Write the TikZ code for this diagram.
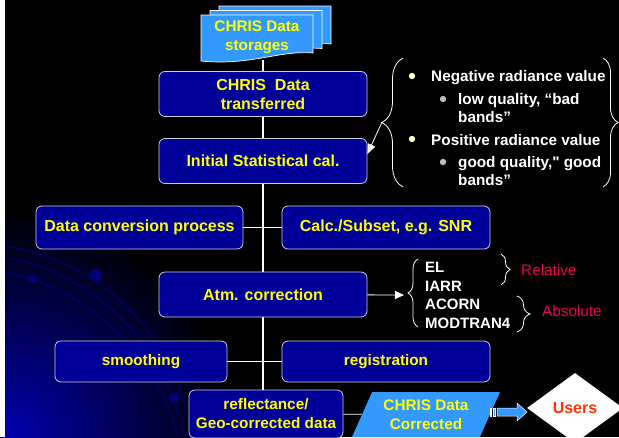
\documentclass[tikz,border=0pt]{standalone}
\usepackage{fontspec}
\setmainfont{Liberation Sans}
\usepackage{tikz}
\usetikzlibrary{shapes,arrows.meta,positioning,calc,decorations.pathreplacing}
\usepackage{xcolor}
\definecolor{boxnavy}{RGB}{0,0,153}
\definecolor{boxedge}{RGB}{205,205,215}
\definecolor{skyblue}{RGB}{51,153,255}
\definecolor{textyellow}{RGB}{255,255,0}
\definecolor{pinkred}{RGB}{235,0,90}
\definecolor{userred}{RGB}{255,51,0}
\definecolor{dotyellow}{RGB}{255,255,204}
\definecolor{dotgray}{RGB}{190,190,190}
\definecolor{arcblue}{RGB}{0,0,125}
\definecolor{bgblue}{RGB}{0,0,175}

\begin{document}
\begin{tikzpicture}[x=1pt,y=-1pt,
    procbox/.style={rectangle,rounded corners=6pt,fill=boxnavy,draw=boxedge,line width=0.8pt,
        text=textyellow,font=\bfseries\fontsize{16}{19}\selectfont,align=center,inner sep=0pt},
    smalltext/.style={font=\bfseries\fontsize{15.3}{19}\selectfont},
    wire/.style={draw=white,line width=1.2pt},
    bultxt/.style={anchor=base west,text=white,inner sep=0pt,font=\bfseries\fontsize{15.3}{18}\selectfont},
    curly/.style={draw=white,line width=0.8pt,decorate,decoration={brace,amplitude=#1}}]

        \useasboundingbox (0,0) rectangle (619,437);
        \clip (0,0) rectangle (619,437);

        % background
        \fill[black] (0,0) rectangle (619,437);
        \shade[inner color=bgblue,outer color=black] (5,437) circle (230);
        \fill[white] (0,0) rectangle (5,437);
        \draw[arcblue,line width=0.9pt] (5,246) .. controls (110,262) and (178,345) .. (192,437);
        \draw[arcblue,line width=0.9pt] (5,257) .. controls (100,275) and (168,350) .. (184,437);
        \draw[arcblue,line width=0.9pt] (5,272) .. controls (90,290) and (158,355) .. (178,437);
        \fill[arcblue] (32,279) circle (4);
        \fill[arcblue] (96,275) circle (6);
        \fill[arcblue] (174,398) circle (5);

        % Data storages
        \foreach \d in {2,1,0}
            \filldraw[fill=skyblue,draw=white,line width=0.7pt,shift={(9*\d,-4.5*\d)}]
                (201,15) -- (313,15) -- (313,53) .. controls (280,50) and (250,66) .. (201,61) -- cycle;
        \node[text=textyellow,font=\bfseries\fontsize{15.3}{19}\selectfont,align=center] (storage) at (257,37) {CHRIS Data\\storages};
        \coordinate (storeout) at (263,60);

        % main column
        \node[procbox,minimum width=208pt,minimum height=45pt] (transfer) at (263,94) {CHRIS\ \ Data\\transferred};
        \node[procbox,minimum width=208pt,minimum height=45pt] (initstat) at (263,161) {Initial Statistical cal.};
        \node[procbox,minimum width=207pt,minimum height=43pt] (convert) at (139.5,227.5) {Data conversion process};
        \node[procbox,minimum width=208pt,minimum height=43pt] (calcsnr) at (386,227.5) {Calc./Subset, e.g. SNR};
        \node[procbox,minimum width=208pt,minimum height=45pt] (atmcorr) at (263,294.5) {Atm. correction};
        \node[procbox,smalltext,minimum width=172pt,minimum height=41pt] (smooth) at (141,361.5) {smoothing};
        \node[procbox,smalltext,minimum width=208pt,minimum height=41pt] (regist) at (386,361.5) {registration};
        \node[procbox,smalltext,minimum width=154pt,minimum height=48pt] (refl) at (266,414) {reflectance/\\Geo-corrected data};

        % corrected data and users
        \node[trapezium,trapezium stretches body,trapezium left angle=56,trapezium right angle=124,
            fill=skyblue,inner sep=0pt,minimum width=148pt,minimum height=45pt,
            text=textyellow,align=center,font=\bfseries\fontsize{15.3}{19}\selectfont] (corrected) at (426,414.5) {CHRIS Data\\Corrected};
        \node[diamond,fill=white,inner sep=0pt,minimum width=96pt,minimum height=70pt,
            text=userred,font=\bfseries\fontsize{16}{19}\selectfont] (users) at (575,408) {Users};
        \filldraw[fill=skyblue,draw=white,line width=0.5pt]
            (497,408) -- (517,408) -- (517,403) -- (527,412) -- (517,421) -- (517,416) -- (497,416) -- cycle;
        \filldraw[fill=skyblue,draw=white,line width=0.4pt] (490,408) rectangle (491.5,416);
        \filldraw[fill=skyblue,draw=white,line width=0.4pt] (493,408) rectangle (495,416);

        % connectors
        \draw[wire] (storeout) -- (transfer);
        \draw[wire] (transfer) -- (initstat);
        \draw[wire] (initstat) -- (atmcorr);
        \draw[wire] (atmcorr) -- (atmcorr |- refl.north);
        \draw[wire] (convert) -- (calcsnr);
        \draw[wire] (smooth) -- (regist);
        \draw[white,line width=0.7pt] (refl) -- (corrected);

        % radiance notes
        \draw[curly=21pt] (403,187) -- (403,58);
        \draw[curly=15pt] (603,58) -- (603,187);
        \coordinate (bracetip) at (382,122);
        \draw[white,line width=0.8pt,-{Triangle[length=10pt,width=8pt]}] (bracetip) -- ([yshift=7pt]initstat.east);
        \fill[dotyellow] (412,76) circle (3.2);
        \node[bultxt] (neg) at (431,81) {Negative radiance value};
        \fill[dotgray] (443,99) circle (3.2);
        \node[bultxt] (lowq) at (458,104) {low quality, “bad};
        \node[bultxt] (lowqb) at (458,122) {bands”};
        \fill[dotyellow] (412,139) circle (3.2);
        \node[bultxt] (pos) at (431,145) {Positive radiance value};
        \fill[dotgray] (443,162) circle (3.2);
        \node[bultxt] (goodq) at (458,167) {good quality,\textquotedbl{} good};
        \node[bultxt] (goodqb) at (458,185) {bands”};

        % correction methods
        \coordinate (methtip) at (404,295);
        \draw[white,line width=0.8pt,-{Triangle[length=9pt,width=8pt]}] (atmcorr) -- (methtip);
        \draw[curly=10pt] (418,327) -- (418,259);
        \foreach \m/\y [count=\i] in {EL/272,IARR/291,ACORN/309,MODTRAN4/328}
            \node[bultxt,font=\bfseries\fontsize{15}{18}\selectfont] (meth\i) at (425,\y) {\m};
        \draw[curly=9pt] (501,254) -- (501,285);
        \node[anchor=base west,inner sep=0pt,text=pinkred,font=\fontsize{15.3}{18}\selectfont] (relative) at (521,275) {Relative};
        \draw[curly=13pt] (517,296) -- (517,332);
        \node[anchor=base west,inner sep=0pt,text=pinkred,font=\fontsize{15.3}{18}\selectfont] (absolute) at (542,316) {Absolute};
    \end{tikzpicture}
\end{document}
